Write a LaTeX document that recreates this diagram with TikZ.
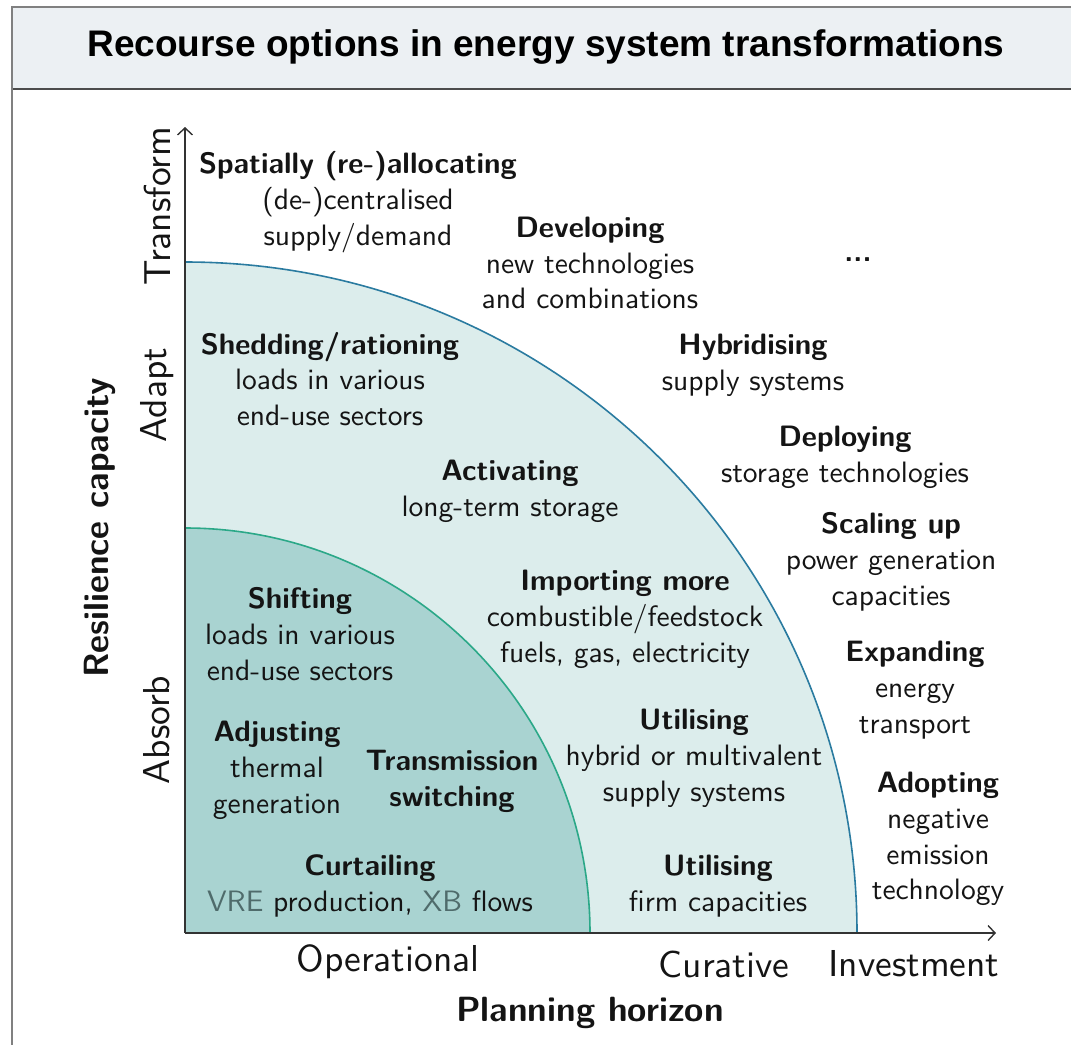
\documentclass[tikz,border=0pt]{standalone}
\usepackage{fontspec}
\setsansfont{lmsans10-regular.otf}[BoldFont=lmsans10-bold.otf]
\newfontfamily\titlefont{Liberation Sans}
\usetikzlibrary{arrows.meta}
\definecolor{titlefill}{HTML}{ECF0F3}
\definecolor{outerfill}{HTML}{DCEDEC}
\definecolor{innerfill}{HTML}{A9D3D1}
\definecolor{outerline}{HTML}{2A7BA0}
\definecolor{innerline}{HTML}{2BA888}
\definecolor{axiscol}{HTML}{333333}
\definecolor{txtcol}{HTML}{141414}
\definecolor{abbrcol}{HTML}{4F6B6B}
\begin{document}
\begin{tikzpicture}[x=1pt,y=-1pt,
  txt/.style={font=\sffamily\fontsize{29.5}{35.8}\selectfont, align=center, inner sep=0pt, text=txtcol},
  axlab/.style={font=\sffamily\fontsize{37.5}{40}\selectfont, inner sep=0pt, text=txtcol},
  axtitle/.style={font=\sffamily\bfseries\fontsize{35}{40}\selectfont, inner sep=0pt, text=txtcol},
  axisline/.style={draw=axiscol, line width=1.6pt, -{Straight Barb[length=7pt,width=15pt,line width=1.4pt]}},
]
\useasboundingbox (0,0) rectangle (1071,1045);
% title bar
\fill[titlefill] (12,7) rectangle (1071,89);
\draw[draw=gray, line width=2.2pt] (12,7) -- (1071,7);
\draw[draw=black!70, line width=2.2pt] (12,89) -- (1071,89);
\draw[draw=gray, line width=2.6pt] (12,6) -- (12,1045);
\node[font=\titlefont\bfseries\fontsize{37}{40}\selectfont, inner sep=0pt] (title) at (546,47) {Recourse options in energy system transformations};
% regions
\coordinate (O) at (185,933);
\fill[outerfill] (O) -- (185,262) arc[start angle=90, end angle=0, x radius=672pt, y radius=671pt] -- cycle;
\draw[outerline, line width=1.6pt] (185,262) arc[start angle=90, end angle=0, x radius=672pt, y radius=671pt];
\fill[innerfill] (O) -- (185,528) arc[start angle=90, end angle=0, x radius=405pt, y radius=405pt] -- cycle;
\draw[innerline, line width=1.6pt] (185,528) arc[start angle=90, end angle=0, x radius=405pt, y radius=405pt];
% axes
\coordinate (Ytop) at (185,127);
\coordinate (Xend) at (996,933);
\draw[axisline] (O) -- (Ytop);
\draw[axisline] (O) -- (Xend);
% axis labels
\node[axlab, rotate=90] (transform) at (157,206) {Transform};
\node[axlab, rotate=90] (adapt) at (157,395) {Adapt};
\node[axlab, rotate=90] (absorb) at (157,730) {Absorb};
\node[axtitle, rotate=90] (resil) at (100,528) {Resilience capacity};
\node[axlab] (oper) at (388,962) {Operational};
\node[axlab] (cur) at (724,964) {Curative};
\node[axlab] (inv) at (914,964) {Investment};
\node[axtitle] (plan) at (590,1013) {Planning horizon};
% options
\node[txt] (spatial) at (358,202) {\textbf{Spatially (re-)allocating}\\(de-)centralised\\supply/demand};
\node[txt] (develop) at (590,263) {\textbf{Developing}\\new technologies\\and combinations};
\node[txt] (dots) at (858,260) {\textbf{...}};
\node[txt] (shed) at (330,379) {\textbf{Shedding/rationing}\\loads in various\\end-use sectors};
\node[txt] (hybrid) at (753,365) {\textbf{Hybridising}\\supply systems};
\node[txt] (deploy) at (845,457) {\textbf{Deploying}\\storage technologies};
\node[txt] (activ) at (510,491) {\textbf{Activating}\\long-term storage};
\node[txt] (scale) at (891,562) {\textbf{Scaling up}\\power generation\\capacities};
\node[txt] (import) at (625,619) {\textbf{Importing more}\\combustible/feedstock\\fuels, gas, electricity};
\node[txt] (shift) at (300,634) {\textbf{Shifting}\\loads in various\\end-use sectors};
\node[txt] (expand) at (915,690) {\textbf{Expanding}\\energy\\transport};
\node[txt] (util1) at (694,758) {\textbf{Utilising}\\hybrid or multivalent\\supply systems};
\node[txt] (adjust) at (277,770) {\textbf{Adjusting}\\thermal\\generation};
\node[txt] (trans) at (452,781) {\textbf{Transmission}\\\textbf{switching}};
\node[txt] (adopt) at (938,839) {\textbf{Adopting}\\negative\\emission\\technology};
\node[txt] (curt) at (370,886) {\textbf{Curtailing}\\\textcolor{abbrcol}{VRE} production, \textcolor{abbrcol}{XB} flows};
\node[txt] (util2) at (718,886) {\textbf{Utilising}\\firm capacities};
\end{tikzpicture}
\end{document}
